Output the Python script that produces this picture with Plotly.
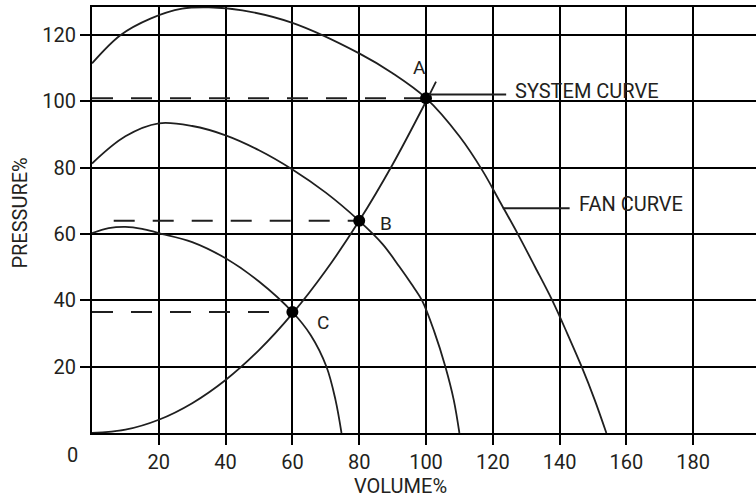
import plotly.graph_objects as go

# ---- data ----
fan100_x = [0, 8.5, 17.5, 27, 35, 45, 60, 80, 90, 100, 110, 117, 122, 127.5, 132.7, 137.8, 142.3, 146.6, 150.5, 154]
fan100_y = [111.5, 120, 125, 128, 128.4, 127.5, 123.7, 114.5, 108.5, 101, 89.5, 79, 70, 60, 50, 40, 30, 20, 10, 0]

fan80_x = [0, 10, 20, 30, 40, 50, 60, 70, 80, 87, 92, 95.6, 98.8, 102.5, 105.8, 108.3, 110]
fan80_y = [81.3, 89.5, 93.4, 92.6, 89.8, 85.3, 79.5, 72.5, 64, 57, 50.2, 45, 40, 30.5, 20, 10, 0]

fan60_x = [0, 5, 10, 15, 20, 30, 40, 50, 60, 65.5, 70.2, 72.9, 74.7]
fan60_y = [60.3, 61.8, 62.2, 61.6, 60.3, 57.6, 52.7, 45.7, 36.5, 29.5, 20, 10, 0]

system_x = [0, 10, 20, 30, 40, 50, 60, 70, 80, 90, 100, 103]
system_y = [0, 1, 4, 9, 16, 25, 36, 49, 64, 81, 100, 106]

point_names = ["A", "B", "C"]
point_x = [100, 80, 60]
point_y = [101, 64, 36.5]
dash_start_x = [0, 6.5, 0]

x_ticks = [20, 40, 60, 80, 100, 120, 140, 160, 180]
y_ticks = [20, 40, 60, 80, 100, 120]

curve_labels = ["SYSTEM CURVE", "FAN CURVE"]
leader_x0 = [101, 123]
leader_x1 = [124, 143]
leader_y = [102.1, 67.8]

# ---- style ----
FONT = "Roboto"
TXT = "#231f20"
LINE = "#1f1f1f"

fig = go.Figure()

for xs, ys in [(fan100_x, fan100_y), (fan80_x, fan80_y), (fan60_x, fan60_y), (system_x, system_y)]:
    fig.add_trace(go.Scatter(x=xs, y=ys, mode="lines",
                             line=dict(color=LINE, width=1.8, shape="spline", smoothing=1.0),
                             showlegend=False, hoverinfo="skip"))

# dashed reference lines to operating points
for x0, px, py in zip(dash_start_x, point_x, point_y):
    fig.add_trace(go.Scatter(x=[x0, px], y=[py, py], mode="lines",
                             line=dict(color=LINE, width=2, dash="21px,18px"),
                             showlegend=False, hoverinfo="skip"))

# operating points
fig.add_trace(go.Scatter(x=point_x, y=point_y, mode="markers",
                         marker=dict(color="black", size=12, symbol="circle"),
                         showlegend=False, hoverinfo="skip"))

# point labels
label_shift = {"A": (-7, 31), "B": (27, -3), "C": (31, -10)}
for n, px, py in zip(point_names, point_x, point_y):
    dx, dy = label_shift[n]
    fig.add_annotation(x=px, y=py, text=n, showarrow=False, xshift=dx, yshift=dy,
                       font=dict(family=FONT, size=19, color=TXT))

# curve labels with leader lines
for lab, x0, x1, ly in zip(curve_labels, leader_x0, leader_x1, leader_y):
    fig.add_trace(go.Scatter(x=[x0, x1], y=[ly, ly], mode="lines",
                             line=dict(color=LINE, width=2), showlegend=False, hoverinfo="skip"))
    fig.add_annotation(x=x1, y=ly, text=lab, showarrow=False, xanchor="left", yanchor="middle",
                       xshift=7, yshift=4, font=dict(family=FONT, size=20, color=TXT))

# origin label
fig.add_annotation(x=0, y=0, text="0", showarrow=False, xanchor="center", yanchor="middle",
                   xshift=-20, yshift=-22, font=dict(family=FONT, size=20, color=TXT))

# axis titles
fig.add_annotation(xref="paper", yref="paper", x=0.4646, y=0, text="VOLUME%", showarrow=False,
                   xanchor="center", yanchor="middle", yshift=-53,
                   font=dict(family=FONT, size=20, color=TXT))
fig.add_annotation(xref="paper", yref="paper", x=0, y=0.515, text="PRESSURE%", showarrow=False,
                   textangle=-90, xanchor="center", yanchor="middle", xshift=-72,
                   font=dict(family=FONT, size=20, color=TXT))

fig.update_layout(
    width=756, height=498,
    margin=dict(l=92, r=0, t=7, b=65),
    paper_bgcolor="white", plot_bgcolor="white",
    font=dict(family=FONT, size=20, color=TXT),
    xaxis=dict(range=[0, 198.8], tickvals=x_ticks, ticktext=[str(v) for v in x_ticks],
               showgrid=True, gridcolor="black", gridwidth=2,
               showline=True, linecolor="black", linewidth=2, mirror=True,
               ticks="outside", ticklen=10, tickwidth=2, tickcolor="black",
               zeroline=False, tickfont=dict(family=FONT, size=20, color=TXT)),
    yaxis=dict(range=[0, 128.5], tickvals=y_ticks, ticktext=[str(v) for v in y_ticks],
               showgrid=True, gridcolor="black", gridwidth=2,
               showline=True, linecolor="black", linewidth=2, mirror=False,
               ticks="outside", ticklen=10, tickwidth=2, tickcolor="black",
               zeroline=False, tickfont=dict(family=FONT, size=20, color=TXT)),
)

fig.write_html("out.html")
